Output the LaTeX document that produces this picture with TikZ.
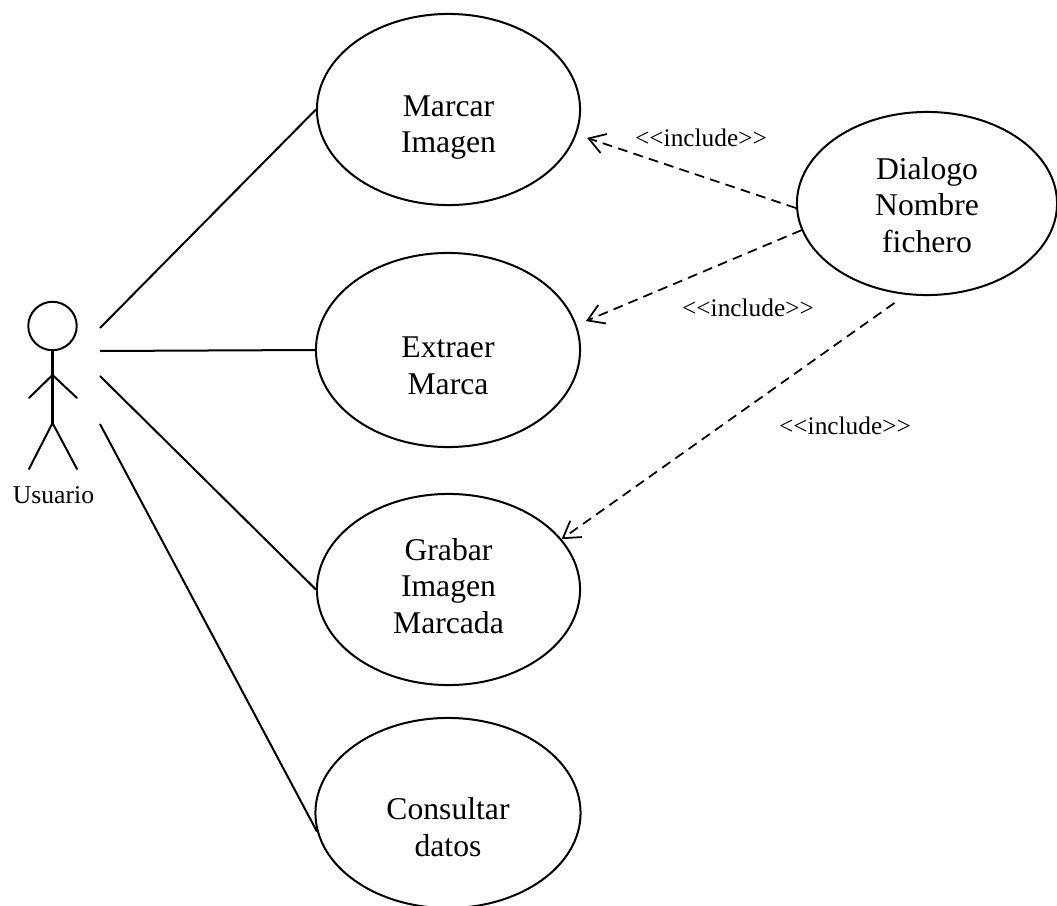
\documentclass[tikz,border=0pt]{standalone}
\usepackage{fontspec}
\setmainfont{Liberation Serif}
\usetikzlibrary{arrows.meta,shapes.geometric}

\begin{document}
\begin{tikzpicture}[x=0.01cm,y=-0.01cm,
  usecase/.style={draw, ellipse, line width=0.57pt, inner sep=0pt},
  uctext/.style={align=center, font=\fontsize{9}{10.45}\selectfont},
  assoc/.style={line width=0.57pt},
  actorline/.style={line width=0.57pt, line cap=round},
  incl/.style={line width=0.5pt, dash pattern=on 2.8pt off 1.8pt,
    -{Straight Barb[length=0.16cm,width=0.2cm]}},
  stereo/.style={font=\fontsize{7.2}{8.5}\selectfont, inner sep=0pt},
  actorname/.style={font=\fontsize{7.3}{8.5}\selectfont, inner sep=0pt, anchor=base}
]
\useasboundingbox (0,0) rectangle (1057,906);

% use cases
\node[usecase, minimum width=2.63cm, minimum height=1.91cm,
  label={[uctext,yshift=-0.18cm]center:{Marcar\\Imagen}}] (marcar) at (448.5,109.5) {};
\node[usecase, minimum width=2.64cm, minimum height=1.94cm,
  label={[uctext,yshift=-0.16cm]center:{Extraer\\Marca}}] (extraer) at (448,350) {};
\node[usecase, minimum width=2.63cm, minimum height=1.91cm,
  label={[uctext,yshift=0.035cm]center:{Grabar\\Imagen\\Marcada}}] (grabar) at (448.5,589.5) {};
\node[usecase, minimum width=2.65cm, minimum height=1.90cm,
  label={[uctext,yshift=-0.14cm]center:{Consultar\\datos}}] (consultar) at (448,813) {};
\node[usecase, minimum width=2.60cm, minimum height=1.83cm,
  label={[uctext,yshift=-0.015cm]center:{Dialogo\\Nombre\\fichero}}] (dialogo) at (927,203.5) {};

% actor
\coordinate (actor) at (52.5,326);
\draw[actorline] (actor) circle[radius=0.242cm];
\draw[actorline] (52.5,350.2) -- (52.5,423);
\draw[actorline] (29,398) -- (52.5,375) -- (77,398);
\draw[actorline] (29,469) -- (52.5,423) -- (77,469);
\node[actorname] (usuario) at (53.5,503) {Usuario};

% association ends beside the actor
\coordinate (a1) at (100,328);
\coordinate (a2) at (100,351);
\coordinate (a3) at (100,376);
\coordinate (a4) at (100,424);

\draw[assoc] (a1) -- (marcar.west);
\draw[assoc] (a2) -- (extraer.west);
\draw[assoc] (a3) -- (grabar.west);
\draw[assoc] (a4) -- (consultar.188);

% include relations
\draw[incl, shorten >=0.11cm] (dialogo.182) -- (marcar.349);
\draw[incl, shorten >=0.10cm] (dialogo.192) -- (extraer.11);
\draw[incl, shorten <=0.14cm] (dialogo.257) -- (grabar.24);

\node[stereo] (inc1) at (701,138) {<\kern0pt<include>\kern0pt>};
\node[stereo] (inc2) at (748,307.5) {<\kern0pt<include>\kern0pt>};
\node[stereo] (inc3) at (845,426) {<\kern0pt<include>\kern0pt>};
\end{tikzpicture}
\end{document}
